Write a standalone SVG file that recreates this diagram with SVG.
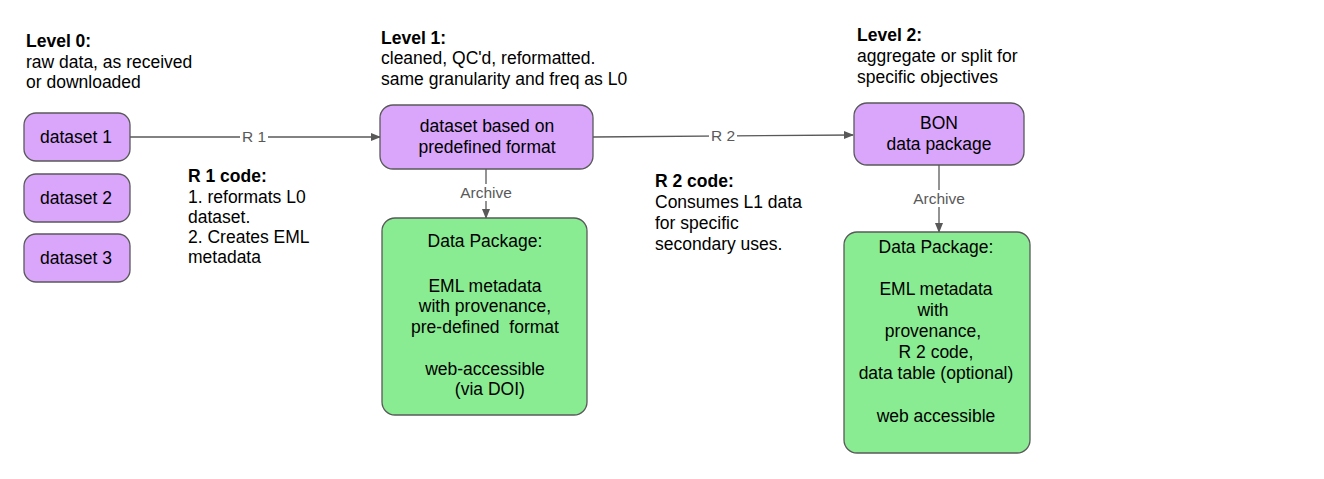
<svg xmlns="http://www.w3.org/2000/svg" width="1324" height="479" viewBox="0 0 1324 479">
<style>
text{font-family:"Liberation Sans",Arial,sans-serif;font-size:17.5px;fill:#000}
.b{font-weight:bold}
.c{text-anchor:middle}
.lbl{font-size:15.5px;fill:#595959;text-anchor:middle}
.p{fill:#d9a6fb;stroke:#595959;stroke-width:1.3}
.g{fill:#89ec92;stroke:#595959;stroke-width:1.3}
.e{stroke:#595959;stroke-width:1.3;fill:none}
.bg{fill:#fff}
</style>
<defs>
<marker id="ah" markerWidth="10" markerHeight="10" refX="9" refY="5" orient="auto" markerUnits="userSpaceOnUse">
<path d="M0,1 L10,5 L0,9 Z" fill="#595959"/>
</marker>
</defs>
<rect width="1324" height="479" fill="#fff"/>
<g id="notes">
<text x="26" y="47" class="b">Level 0:</text>
<text x="26" y="68">raw data, as received</text>
<text x="26" y="88">or downloaded</text>
<text x="188" y="182" class="b">R 1 code:</text>
<text x="188" y="203">1. reformats L0</text>
<text x="188" y="223">dataset.</text>
<text x="188" y="243">2. Creates EML</text>
<text x="188" y="263">metadata</text>
<text x="381" y="44" class="b">Level 1:</text>
<text x="381" y="64">cleaned, QC'd, reformatted.</text>
<text x="381" y="85">same granularity and freq as L0</text>
<text x="655" y="187" class="b">R 2 code:</text>
<text x="655" y="208">Consumes L1 data</text>
<text x="655" y="229">for specific</text>
<text x="655" y="250">secondary uses.</text>
<text x="857" y="41" class="b">Level 2:</text>
<text x="857" y="62">aggregate or split for</text>
<text x="857" y="83">specific objectives</text>
</g>
<g id="connectors">
<line x1="130" y1="137" x2="380" y2="137" class="e" marker-end="url(#ah)"/>
<rect x="240" y="128" width="28" height="18" class="bg"/>
<text x="254" y="142" class="lbl">R 1</text>
<line x1="593" y1="137" x2="853" y2="135" class="e" marker-end="url(#ah)"/>
<rect x="709" y="126" width="28" height="18" class="bg"/>
<text x="723" y="141" class="lbl">R 2</text>
<line x1="486" y1="169" x2="486" y2="218" class="e" marker-end="url(#ah)"/>
<rect x="458" y="184" width="56" height="17" class="bg"/>
<text x="486" y="198" class="lbl">Archive</text>
<line x1="939" y1="165" x2="939" y2="232" class="e" marker-end="url(#ah)"/>
<rect x="910" y="190" width="58" height="17" class="bg"/>
<text x="939" y="204" class="lbl">Archive</text>
</g>
<g id="dataset1">
<rect x="24" y="113" width="106" height="48" rx="12" class="p"/>
<text x="76" y="143" class="c">dataset 1</text>
</g>
<g id="dataset2">
<rect x="24" y="174" width="106" height="48" rx="12" class="p"/>
<text x="76" y="204" class="c">dataset 2</text>
</g>
<g id="dataset3">
<rect x="24" y="234" width="106" height="48" rx="12" class="p"/>
<text x="76" y="264" class="c">dataset 3</text>
</g>
<g id="l1dataset">
<rect x="380" y="105" width="213" height="64" rx="13" class="p"/>
<text x="487" y="132" class="c">dataset based on</text>
<text x="487" y="153" class="c">predefined format</text>
</g>
<g id="l1package">
<rect x="382" y="218" width="205" height="197" rx="13" class="g"/>
<text x="485" y="247" class="c">Data Package:</text>
<text x="485" y="292" class="c">EML metadata</text>
<text x="485" y="312" class="c">with provenance, </text>
<text x="485" y="333" class="c" xml:space="preserve">pre-defined  format</text>
<text x="485" y="375" class="c">web-accessible</text>
<text x="485" y="395" class="c" xml:space="preserve">  (via DOI)</text>
</g>
<g id="bon">
<rect x="854" y="103" width="170" height="62" rx="13" class="p"/>
<text x="939" y="129" class="c">BON</text>
<text x="939" y="150" class="c">data package</text>
</g>
<g id="l2package">
<rect x="844" y="232" width="186" height="221" rx="13" class="g"/>
<text x="936" y="253" class="c">Data Package:</text>
<text x="936" y="295" class="c">EML metadata</text>
<text x="933" y="316" class="c">with</text>
<text x="933" y="337" class="c">provenance,</text>
<text x="936" y="358" class="c">R 2 code,</text>
<text x="936" y="379" class="c">data table (optional)</text>
<text x="936" y="422" class="c">web accessible</text>
</g>
</svg>
